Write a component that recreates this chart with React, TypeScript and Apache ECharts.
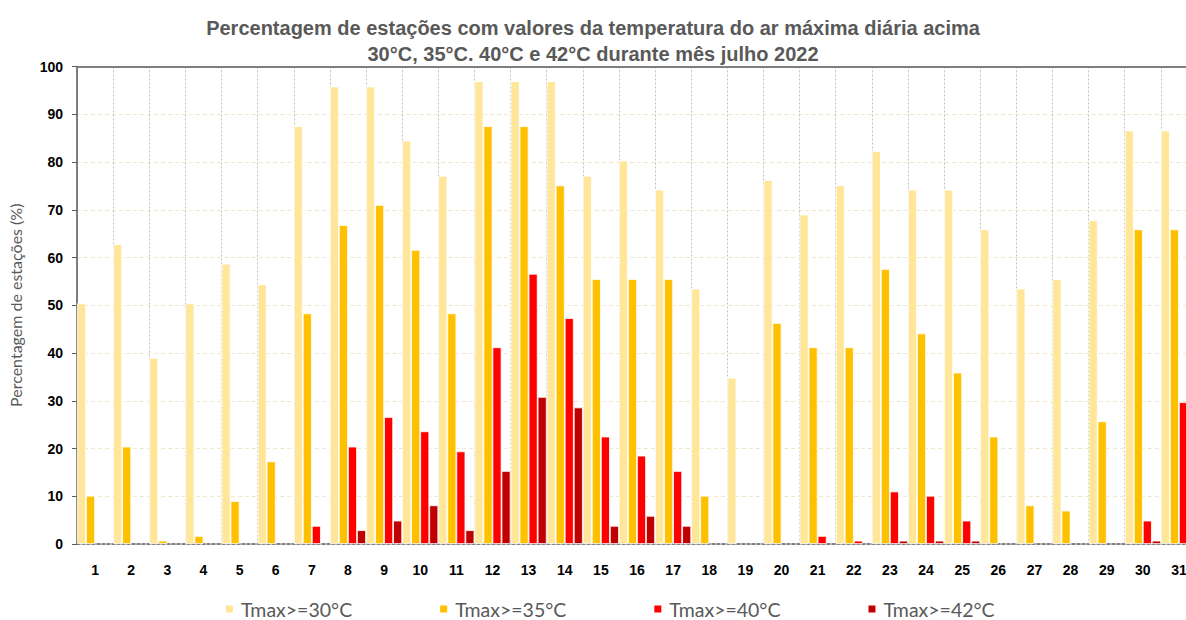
import React, { useEffect, useRef } from "react";
import * as echarts from "echarts";

const days = Array.from({ length: 31 }, (_, i) => String(i + 1));

const tmax30 = [50.4, 62.8, 39.0, 50.4, 58.7, 54.4, 87.5, 95.8, 95.8, 84.5, 77.1, 96.9, 96.9, 96.9, 77.1, 80.3, 74.2, 53.5, 34.8, 76.2, 69.0, 75.1, 82.3, 74.2, 74.2, 65.9, 53.5, 55.5, 67.8, 86.6, 86.6];
const tmax35 = [10.1, 20.4, 0.7, 1.7, 9.0, 17.3, 48.3, 66.8, 71.0, 61.6, 48.3, 87.5, 87.5, 75.1, 55.5, 55.5, 55.5, 10.1, 0, 46.3, 41.2, 41.2, 57.6, 44.1, 35.9, 22.5, 8.1, 7.0, 25.7, 65.9, 65.9];
const tmax40 = [0, 0, 0, 0, 0, 0, 3.8, 20.4, 26.6, 23.6, 19.4, 41.2, 56.6, 47.3, 22.5, 18.5, 15.3, 0, 0, 0, 1.7, 0.7, 11.0, 10.1, 4.9, 0, 0, 0, 0, 4.9, 29.7];
const tmax42 = [0, 0, 0, 0, 0, 0, 0, 2.9, 4.9, 8.1, 2.9, 15.3, 30.8, 28.6, 3.8, 5.9, 3.8, 0, 0, 0, 0, 0, 0.7, 0.7, 0.7, 0, 0, 0, 0, 0.7, 0];

const seriesNames = ["Tmax>=30°C", "Tmax>=35°C", "Tmax>=40°C", "Tmax>=42°C"];
const seriesColors = ["#FFE699", "#FFC000", "#FF0000", "#C00000"];
const seriesData = [tmax30, tmax35, tmax40, tmax42];

const titleText = "Percentagem de estações com valores da temperatura do ar máxima diária acima\n30°C, 35°C. 40°C e 42°C durante mês julho 2022";
const yName = "Percentagem de estações (%)";

export default function App() {
  const ref = useRef<HTMLDivElement>(null);
  useEffect(() => {
    if (!ref.current) return;
    const chart = echarts.init(ref.current, null, { renderer: "svg" });
    chart.setOption({
      animation: false,
      backgroundColor: "#ffffff",
      title: {
        text: titleText,
        left: 588,
        textAlign: "center",
        top: 10,
        textStyle: {
          fontFamily: "Liberation Sans",
          fontWeight: "bold",
          fontSize: 20,
          lineHeight: 26,
          color: "#595959",
        },
      },
      legend: {
        left: 224,
        top: 598,
        padding: 0,
        itemWidth: 9,
        itemHeight: 9,
        itemGap: 86,
        icon: "rect",
        textStyle: { fontFamily: "Lato", fontSize: 19.5, lineHeight: 22, color: "#595959", padding: [0, 0, 0, 2] },
        data: seriesNames,
      },
      grid: { left: 77, top: 66.5, height: 477.5, width: 1120, containLabel: false, outerBoundsMode: "none" },
      xAxis: [
        {
          type: "category",
          data: days,
          boundaryGap: true,
          axisLine: { show: true, lineStyle: { color: "#595959", width: 1.5, type: [3, 2] } },
          axisTick: { show: false },
          axisLabel: { fontFamily: "Liberation Sans", fontWeight: "bold", fontSize: 14, color: "#000", margin: 19 },
          splitLine: { show: true, interval: 0, lineStyle: { color: "#BFBFBF", type: [2, 2], width: 1 } },
        },
        {
          type: "category",
          data: days,
          position: "top",
          axisLine: { show: true, lineStyle: { color: "#7F7F7F", width: 2 } },
          axisTick: { show: false },
          axisLabel: { show: false },
          splitLine: { show: false },
        },
      ],
      yAxis: {
        type: "value",
        min: 0,
        max: 100,
        interval: 10,
        name: yName,
        nameLocation: "middle",
        nameGap: 54,
        nameTextStyle: { fontFamily: "Lato", fontSize: 16, color: "#595959" },
        axisLine: { show: true, lineStyle: { color: "#595959", width: 1.5 } },
        axisTick: { show: true, length: 5, lineStyle: { color: "#595959" } },
        axisLabel: { fontFamily: "Liberation Sans", fontWeight: "bold", fontSize: 14, color: "#000", margin: 14 },
        splitLine: { show: true, lineStyle: { color: "#F2E6CC", type: [4, 3], width: 1 } },
      },
      series: seriesNames.map((name, i) => ({
        name,
        type: "bar",
        xAxisIndex: 0,
        data: seriesData[i].map((v) => (v === 0 ? "-" : v)),
        barGap: "0%",
        barCategoryGap: "0%",
        itemStyle: { color: seriesColors[i], borderColor: "#ffffff", borderWidth: 0.8 },
      })),
    });
    return () => chart.dispose();
  }, []);
  return (
    <div
      ref={ref}
      style={{ position: "fixed", left: 0, top: 0, width: 1186, height: 620 }}
    />
  );
}
